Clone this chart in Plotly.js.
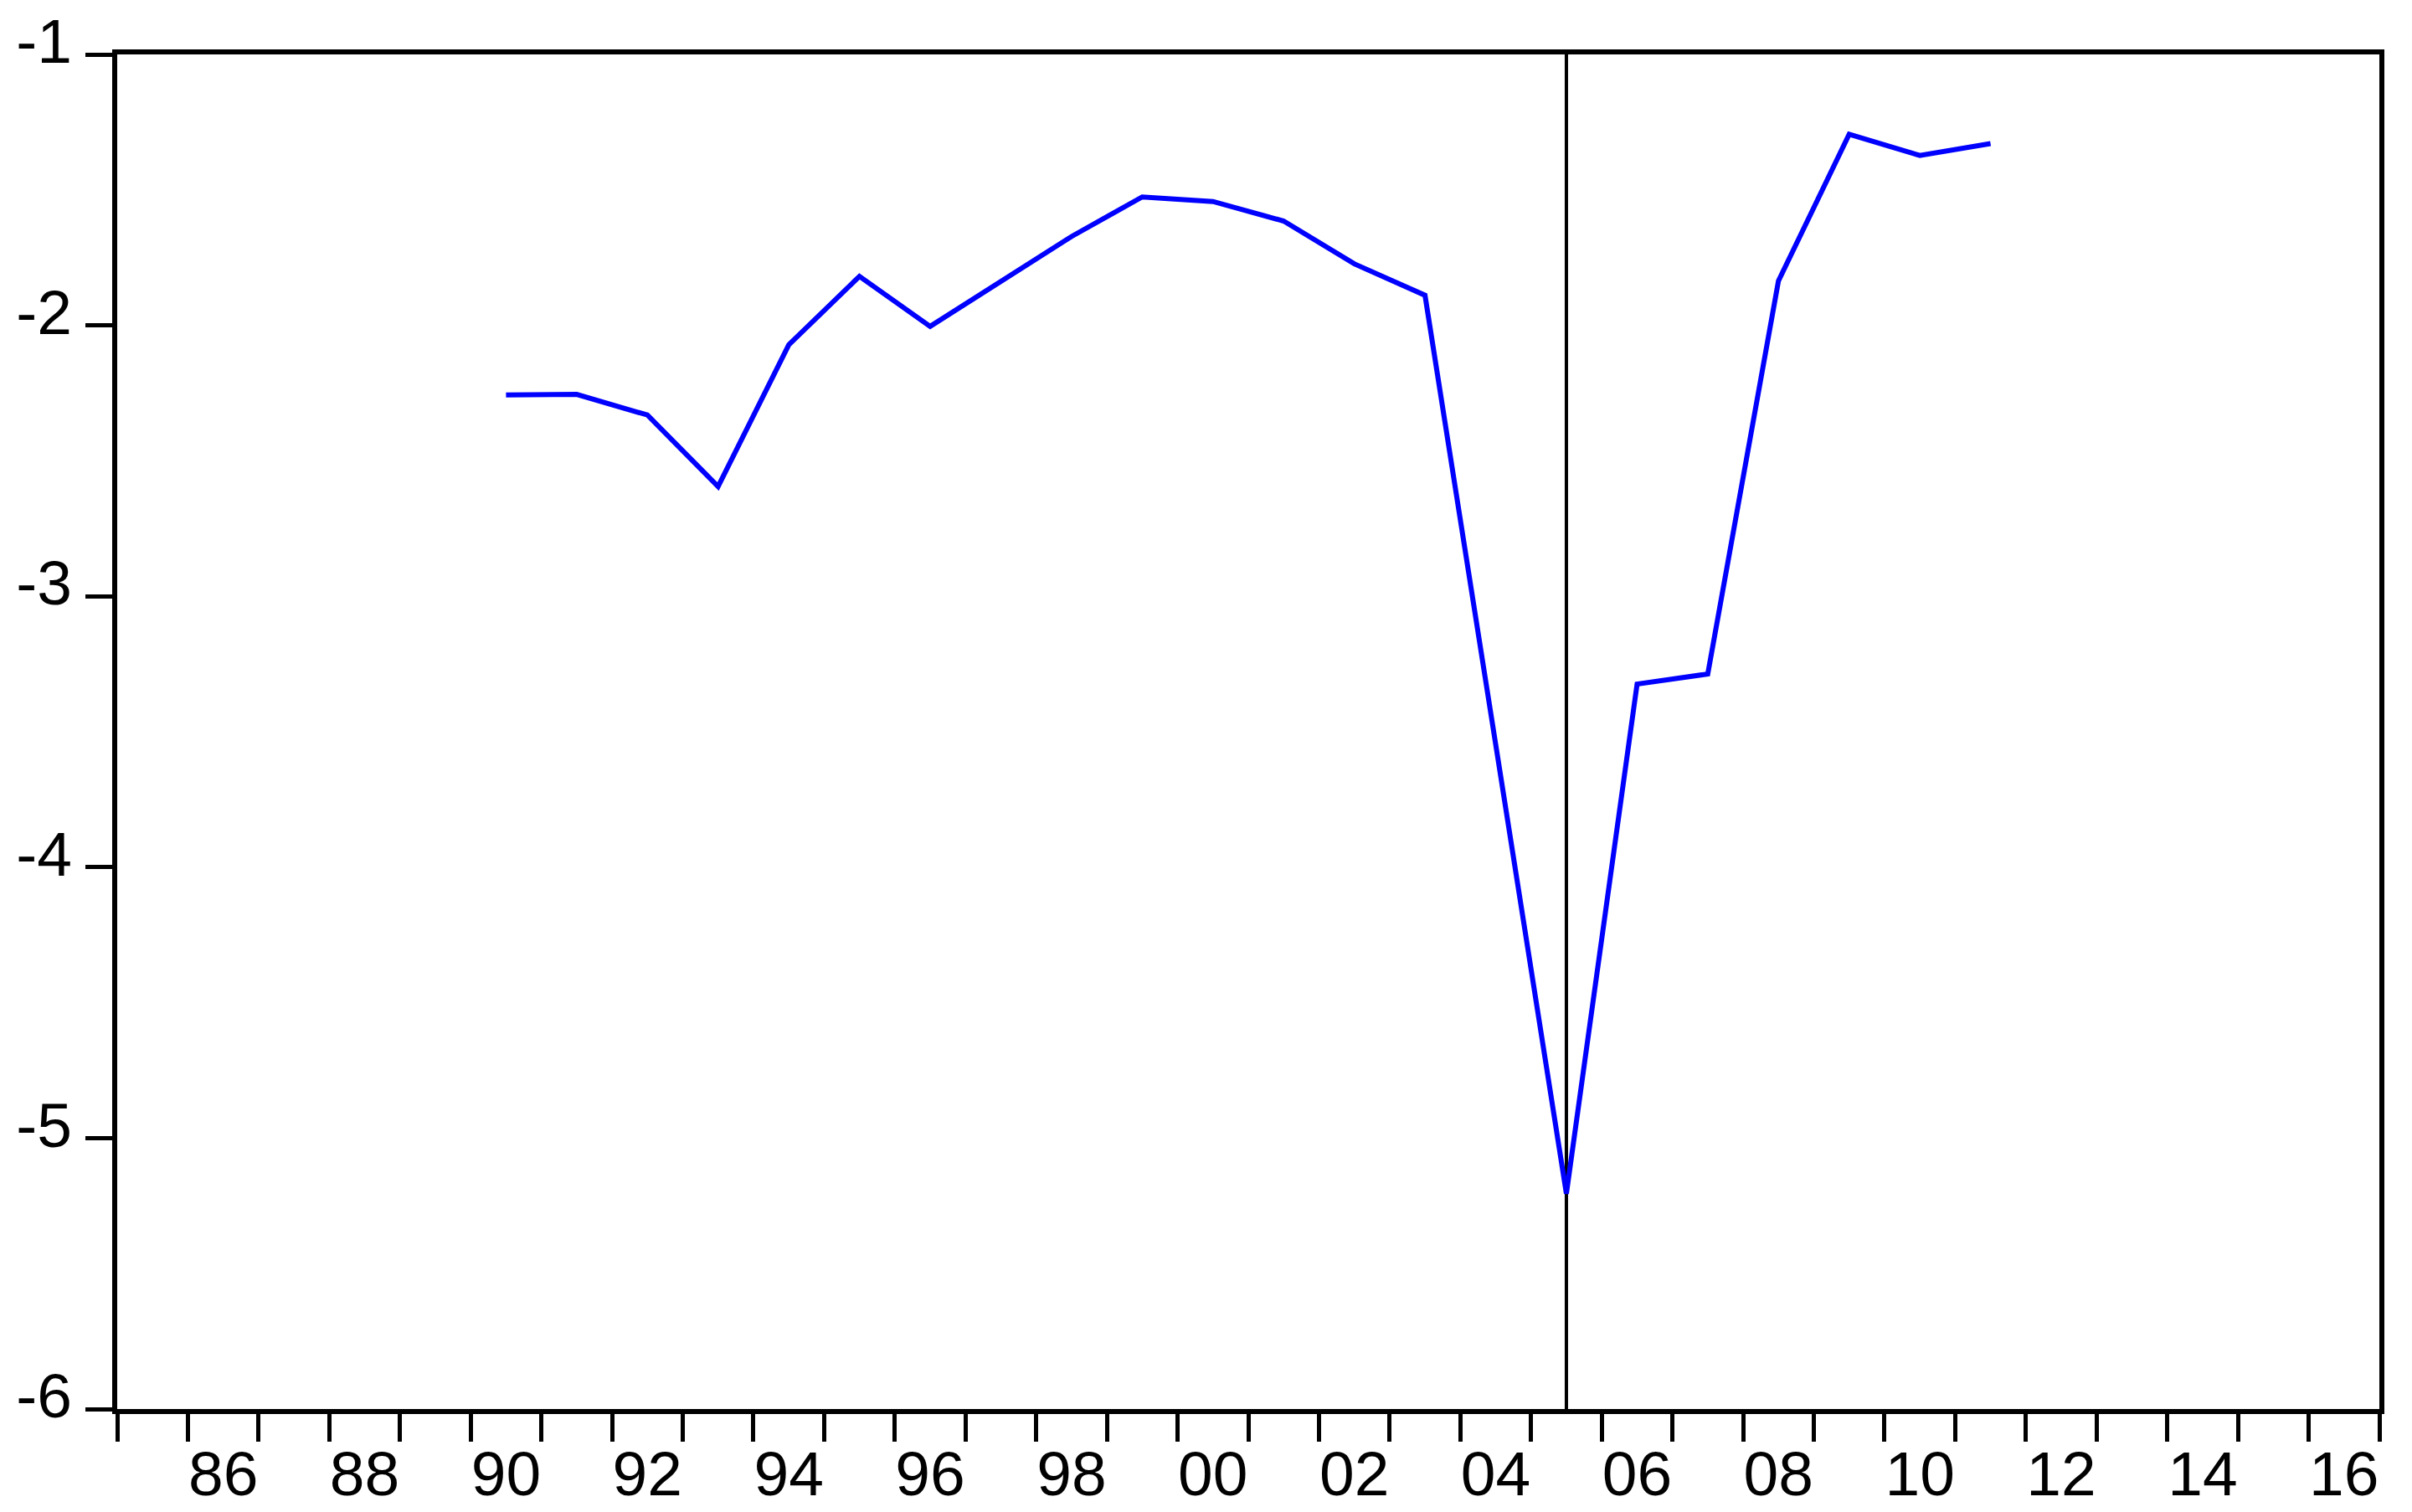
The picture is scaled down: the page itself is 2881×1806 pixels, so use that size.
<!DOCTYPE html>
<html>
<head>
<meta charset="utf-8">
<script src="https://cdn.plot.ly/plotly-3.0.1.min.js"></script>
<style>html,body{margin:0;padding:0;background:#fff;}#chart{width:2881px;height:1806px;}</style>
</head>
<body>
<div id="chart"></div>
<script>
// Data
const years = [1990, 1991, 1992, 1993, 1994, 1995, 1996, 1997, 1998, 1999, 2000,
               2001, 2002, 2003, 2004, 2005, 2006, 2007, 2008, 2009, 2010, 2011];
const values = [-2.257, -2.255, -2.331, -2.595, -2.072, -1.819, -2.004, -1.839, -1.672, -1.526, -1.543,
                -1.615, -1.773, -1.889, -3.545, -5.205, -3.324, -3.287, -1.836, -1.295, -1.373, -1.329];
const breakYear = [2005];
const xTickVals = [1986, 1988, 1990, 1992, 1994, 1996, 1998, 2000, 2002, 2004, 2006, 2008, 2010, 2012, 2014, 2016];
const xTickText = ["86", "88", "90", "92", "94", "96", "98", "00", "02", "04", "06", "08", "10", "12", "14", "16"];
const yTickVals = [-6, -5, -4, -3, -2, -1];
const yTickText = ["-6", "-5", "-4", "-3", "-2", "-1"];

const font = {family: "Liberation Sans, Arial, sans-serif", size: 75, color: "#000"};

const trace = {
  type: "scatter",
  mode: "lines",
  x: years,
  y: values,
  line: {color: "#0000FF", width: 6},
  hoverinfo: "skip"
};

const layout = {
  width: 2881,
  height: 1806,
  paper_bgcolor: "#fff",
  plot_bgcolor: "#fff",
  showlegend: false,
  margin: {l: 140, r: 39, t: 65, b: 123, pad: 0},
  font: font,
  xaxis: {
    range: [1984.5, 2016.5],
    tickmode: "array",
    tickvals: xTickVals,
    ticktext: xTickText,
    ticks: "",
    ticklen: 0,
    tickfont: font,
    ticklabelstandoff: 7,
    showgrid: false,
    zeroline: false,
    showline: true,
    linecolor: "#000",
    linewidth: 6,
    mirror: true,
    minor: {
      tickmode: "linear",
      tick0: 1984.5,
      dtick: 1,
      ticks: "outside",
      ticklen: 33,
      tickwidth: 5,
      tickcolor: "#000",
      showgrid: false
    }
  },
  yaxis: {
    range: [-6, -1],
    tickmode: "array",
    tickvals: yTickVals,
    ticktext: yTickText,
    ticks: "outside",
    ticklen: 32,
    tickwidth: 5,
    tickcolor: "#000",
    tickfont: font,
    ticklabelstandoff: 1,
    ticklabelshift: -16,
    showgrid: false,
    zeroline: false,
    showline: true,
    linecolor: "#000",
    linewidth: 6,
    mirror: true
  },
  shapes: [{
    type: "line",
    xref: "x",
    yref: "paper",
    x0: breakYear[0],
    x1: breakYear[0],
    y0: 0,
    y1: 1,
    layer: "below",
    line: {color: "#000", width: 4}
  }]
};

Plotly.newPlot("chart", [trace], layout, {staticPlot: true, displayModeBar: false});
</script>
</body>
</html>
